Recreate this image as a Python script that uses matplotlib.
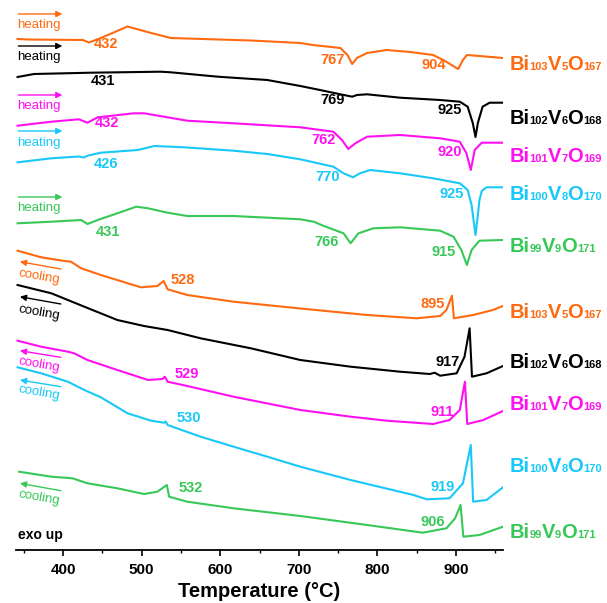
import matplotlib
matplotlib.use("Agg")
import matplotlib.pyplot as plt
from matplotlib.offsetbox import TextArea, HPacker, AnnotationBbox

plt.rcParams['font.family'] = ['Liberation Sans', 'DejaVu Sans']

# ---------------- data (temperature in C, offset DSC signal in arbitrary units, exo up) ----
ORANGE, BLACK, MAGENTA, CYAN, GREEN = '#FF6A10', '#000000', '#FF10F0', '#18C8F8', '#38C858'

# heating curves
h1_T = [342, 356, 425, 433, 448, 482, 512, 537, 639, 702, 718, 753, 762, 768, 774, 787, 812, 842, 871, 884, 903, 909, 914, 930, 960]
h1_y = [511, 510.5, 510, 507.5, 512, 523.5, 517, 512, 509.5, 507, 505, 502, 495, 486, 492, 497, 500, 498, 495, 490, 481, 490, 495, 494, 492]

h2_T = [342, 363, 435, 524, 537, 597, 660, 702, 727, 753, 768, 774, 787, 829, 880, 905, 915, 921.5, 925, 928, 934, 943, 960]
h2_y = [473, 476, 477.3, 478.3, 477.7, 473.3, 470, 464, 460, 455.7, 453.3, 455, 455.7, 452.3, 450, 448.3, 443.3, 427, 413, 427, 443.3, 447.3, 447.3]

h3_T = [342, 385, 420, 431, 444, 490, 503, 533, 558, 617, 702, 744, 755, 763, 772, 787, 829, 880, 905, 913.5, 919, 924, 933, 960]
h3_y = [424.3, 428.3, 430.7, 427.3, 432.7, 436.7, 436.7, 432.7, 429.3, 426.7, 422.7, 418.3, 410, 401, 406.7, 413.3, 415, 411.7, 408.3, 396.7, 380, 400, 407.3, 407.3]

h4_T = [342, 385, 420, 426, 432, 448, 495, 516, 554, 617, 660, 702, 744, 757, 769, 778, 791, 829, 871, 905, 915, 920, 925, 928, 930, 933, 939, 960]
h4_y = [387.7, 391.7, 393.5, 392.5, 394.5, 397.3, 400, 404, 402.7, 399.3, 396, 390.7, 383.3, 376.7, 372.7, 376.7, 380, 376.7, 371.7, 366.7, 360, 345, 315, 335, 350, 359, 362.7, 362.7]

h5_T = [342, 385, 423, 431, 444, 469, 493, 508, 533, 558, 617, 702, 719, 732, 757, 766, 776, 795, 829, 880, 897, 907, 914, 920, 930, 960]
h5_y = [326.7, 328.3, 330, 326, 330, 336.7, 343.3, 341.7, 337.3, 334, 334, 330.7, 328.3, 324, 316.7, 306.7, 316.7, 321.7, 322.7, 319.3, 313.3, 300, 285, 300, 309.3, 310]

# cooling curves
c1_T = [342, 372, 402, 410, 423, 448, 499, 520, 528, 533, 558, 617, 702, 787, 850, 880, 888, 895, 897.5, 922, 947, 960]
c1_y = [299.3, 292.7, 289, 288.3, 281.7, 275, 262.7, 264, 269, 260.7, 255, 248.3, 241.5, 235, 231.7, 234, 240, 254.3, 231.7, 235, 240, 244]

c2_T = [342, 385, 427, 469, 503, 533, 575, 639, 702, 766, 829, 867, 873, 880, 901, 911, 917.5, 920.5, 939, 960]
c2_y = [265, 256.7, 243.3, 230, 224, 220, 211.7, 201.7, 190, 183.3, 178.3, 176, 177.3, 174.3, 176.7, 193.3, 221.7, 173.3, 176.7, 184]

c3_T = [342, 372, 406, 414, 431, 469, 508, 526.5, 529.5, 533, 558, 617, 702, 766, 812, 871, 892, 905, 911.5, 914.5, 935, 960]
c3_y = [209.3, 203.3, 198.3, 196.7, 190, 180, 170, 171, 173.3, 168.3, 164, 153.3, 140, 133.3, 129.3, 126, 130, 140, 168.3, 126, 130, 139]

c4_T = [342, 372, 406, 427, 448, 482, 512, 528.5, 530.5, 533, 575, 634, 660, 702, 766, 846, 863, 892, 909, 919, 922, 939, 960]
c4_y = [182.7, 176.7, 168.3, 160, 152.7, 136.7, 129.3, 127.3, 128.5, 125, 113.3, 99.3, 93.3, 83.3, 70, 55, 50.7, 51.7, 66.7, 105, 48.3, 50, 62.7]

c5_T = [344, 385, 412, 431, 469, 503, 520, 532, 535, 558, 617, 702, 787, 858, 888, 899, 906, 909.5, 930, 960]
c5_y = [78.3, 73.3, 71.7, 66.7, 61.7, 56, 58.3, 65, 53.3, 48.3, 41.7, 34, 25, 17.3, 21.7, 31.7, 45, 13.3, 15, 23.3]

curves = [(h1_T, h1_y, ORANGE), (h2_T, h2_y, BLACK), (h3_T, h3_y, MAGENTA),
          (h4_T, h4_y, CYAN), (h5_T, h5_y, GREEN),
          (c1_T, c1_y, ORANGE), (c2_T, c2_y, BLACK), (c3_T, c3_y, MAGENTA),
          (c4_T, c4_y, CYAN), (c5_T, c5_y, GREEN)]

# peak temperature annotations: (text, T, y, color)
peak_labels = [
    ('432', 455, 506, ORANGE), ('767', 743, 490, ORANGE), ('904', 872, 485, ORANGE),
    ('431', 451, 469, BLACK), ('769', 743, 450, BLACK), ('925', 892, 440, BLACK),
    ('432', 456, 427, MAGENTA), ('762', 732, 410, MAGENTA), ('920', 892, 398, MAGENTA),
    ('426', 455, 386, CYAN), ('770', 737, 373, CYAN), ('925', 895, 356, CYAN),
    ('431', 457, 318, GREEN), ('766', 735, 308, GREEN), ('915', 885, 298, GREEN),
    ('528', 552, 270, ORANGE), ('895', 871, 246, ORANGE),
    ('917', 890, 188, BLACK),
    ('529', 557, 176, MAGENTA), ('911', 883, 138, MAGENTA),
    ('530', 560, 132, CYAN), ('919', 883, 63, CYAN),
    ('532', 562, 62, GREEN), ('906', 871, 28, GREEN),
]

# sample formulas as (element, subscript) pairs
formulas = [[('Bi', '103'), ('V', '5'), ('O', '167')],
            [('Bi', '102'), ('V', '6'), ('O', '168')],
            [('Bi', '101'), ('V', '7'), ('O', '169')],
            [('Bi', '100'), ('V', '8'), ('O', '170')],
            [('Bi', '99'), ('V', '9'), ('O', '171')]]
colors = [ORANGE, BLACK, MAGENTA, CYAN, GREEN]
heat_label_y = [485, 432, 393, 355, 304]
cool_label_y = [237, 187, 145, 83, 17]

heat_arrow_y = [536, 504, 455, 419, 353]
heat_text_y = [525, 493, 444, 407, 342]
cool_arrow_y = [(281, 288.3), (246, 253.3), (192.7, 199.3), (163.3, 170), (59.3, 66.7)]
cool_text_y = [273, 237, 185, 157, 52]

# ---------------- figure ----------------
fig = plt.figure(figsize=(6.07, 6.03), dpi=100)
ax = fig.add_axes([16/607, 1 - 550/603, 487/607, 550/603])
ax.set_xlim(340, 960)
ax.set_ylim(0, 550)

for T, y, c in curves:
    ax.plot(T, y, color=c, lw=1.5, solid_joinstyle='round')

for txt, T, y, c in peak_labels:
    ax.text(T, y, txt, color=c, fontsize=10.5, fontweight='bold', ha='center', va='center')


def formula_box(parts, color):
    children = []
    for el, sub in parts:
        children.append(TextArea(el, textprops=dict(color=color, fontsize=14.5, fontweight='bold')))
        children.append(TextArea(sub, textprops=dict(color=color, fontsize=8, fontweight='bold')))
    return HPacker(children=children, align='baseline', pad=0, sep=0)


for parts, c, yh, yc in zip(formulas, colors, heat_label_y, cool_label_y):
    for yy in (yh, yc):
        ab = AnnotationBbox(formula_box(parts, c), (968, yy), xycoords='data',
                            box_alignment=(0, 0.5), frameon=False, pad=0,
                            annotation_clip=False)
        ax.add_artist(ab)

for c, ya, yt in zip(colors, heat_arrow_y, heat_text_y):
    ax.annotate('', xy=(399, ya), xytext=(343, ya),
                arrowprops=dict(arrowstyle='-|>', color=c, lw=1.0, mutation_scale=9,
                                shrinkA=0, shrinkB=0))
    ax.text(342, yt, 'heating', color=c, fontsize=9.5, ha='left', va='center')

for c, (ya0, ya1), yt in zip(colors, cool_arrow_y, cool_text_y):
    ax.annotate('', xy=(345, ya1), xytext=(397, ya0),
                arrowprops=dict(arrowstyle='-|>', color=c, lw=1.0, mutation_scale=9,
                                shrinkA=0, shrinkB=0))
    ax.text(369, yt, 'cooling', color=c, fontsize=9.5, ha='center', va='center',
            rotation=-10, rotation_mode='anchor')

ax.text(342, 15, 'exo up', color='black', fontsize=10, fontweight='bold', ha='left', va='center')

for s in ['left', 'right', 'top']:
    ax.spines[s].set_visible(False)
ax.spines['bottom'].set_linewidth(1.3)
ax.set_yticks([])
ax.set_xticks([400, 500, 600, 700, 800, 900])
ax.set_xticks([350, 450, 550, 650, 750, 850, 950], minor=True)
ax.tick_params(axis='x', which='major', direction='out', length=4, width=1.2,
               labelsize=11, pad=5)
ax.tick_params(axis='x', which='minor', direction='out', length=2.5, width=1.0)
for lab in ax.get_xticklabels():
    lab.set_fontweight('bold')
ax.set_xlabel('Temperature (°C)', fontsize=14.5, fontweight='bold', labelpad=4)

fig.savefig('out.png', dpi=100)
